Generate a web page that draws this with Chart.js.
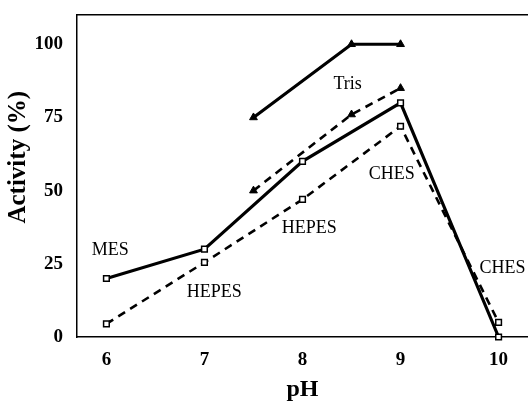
<!DOCTYPE html>
<html>
<head>
<meta charset="utf-8">
<script src="https://cdn.jsdelivr.net/npm/chart.js@4.4.1/dist/chart.umd.min.js"></script>
<style>
  html,body{margin:0;padding:0;background:#fff;}
  #wrap{width:528px;height:401px;position:relative;}
</style>
</head>
<body>
<div id="wrap"><canvas id="c"></canvas></div>
<script>
// ---- data ----
const phValues = [6, 7, 8, 9, 10];
const solidSquares = [20, 30, 60, 80, 0];
const dashedSquares = [4.5, 25.5, 47, 72, 5];
const trisPh = [7.5, 8.5, 9];
const trisSolid = [75, 100, 100];
const trisDashed = [50, 76, 85];
const xTicks = [6, 7, 8, 9, 10];
const yTicks = [0, 25, 50, 75, 100];
const labelTexts = ['MES', 'HEPES', 'HEPES', 'CHES', 'Tris', 'CHES'];
const labelX = [6.04, 7.1, 8.07, 8.91, 8.46, 10.04];
const labelY = [29.7, 15.4, 37.2, 55.6, 86.3, 23.5];

const pts = (xs, ys) => xs.map((x, i) => ({x: x, y: ys[i]}));
const serif = "'Liberation Serif', 'Times New Roman', serif";
const noPad = s => { s.paddingTop = 0; s.paddingBottom = 0; s.paddingLeft = 0; s.paddingRight = 0; };

const textPlugin = {
  id: 'textLabels',
  afterDatasetsDraw(chart) {
    const {ctx, scales} = chart;
    ctx.save();
    ctx.font = "18px " + serif;
    ctx.fillStyle = '#000';
    ctx.textAlign = 'center';
    ctx.textBaseline = 'middle';
    labelTexts.forEach((t, i) => {
      ctx.fillText(t, scales.x.getPixelForValue(labelX[i]), scales.y.getPixelForValue(labelY[i]));
    });
    ctx.restore();
  }
};

new Chart(document.getElementById('c'), {
  type: 'scatter',
  data: {
    datasets: [
      { data: pts(phValues, solidSquares), showLine: true, borderColor: '#000', borderWidth: 3.2,
        pointStyle: 'rect', pointRadius: 4, pointBackgroundColor: '#fff', pointBorderColor: '#000', pointBorderWidth: 1.5, clip: false },
      { data: pts(phValues, dashedSquares), showLine: true, borderColor: '#000', borderWidth: 2.6, borderDash: [8, 6],
        pointStyle: 'rect', pointRadius: 4, pointBackgroundColor: '#fff', pointBorderColor: '#000', pointBorderWidth: 1.5, clip: false },
      { data: pts(trisPh, trisSolid), showLine: true, borderColor: '#000', borderWidth: 3.2,
        pointStyle: 'triangle', pointRadius: 4.5, pointBackgroundColor: '#000', pointBorderColor: '#000', pointBorderWidth: 1, clip: false },
      { data: pts(trisPh, trisDashed), showLine: true, borderColor: '#000', borderWidth: 2.6, borderDash: [8, 6],
        pointStyle: 'triangle', pointRadius: 4.5, pointBackgroundColor: '#000', pointBorderColor: '#000', pointBorderWidth: 1, clip: false }
    ]
  },
  options: {
    responsive: true,
    maintainAspectRatio: false,
    animation: false,
    layout: { autoPadding: false, padding: { top: 15, right: 0, left: 0, bottom: 0 } },
    plugins: { legend: { display: false }, tooltip: { enabled: false } },
    scales: {
      x: {
        type: 'linear', position: 'bottom', min: 5.7, max: 10.3,
        afterBuildTicks: s => { s.ticks = xTicks.map(v => ({value: v})); },
        afterFit: s => { s.height = 64; noPad(s); },
        grid: { display: false, drawTicks: false },
        border: { display: true, color: '#000', width: 1.5 },
        ticks: { color: '#000', padding: 12, font: { family: serif, size: 19, weight: 'bold' } },
        title: { display: true, text: 'pH', color: '#000', padding: { top: 0, bottom: -3 },
                 font: { family: serif, size: 24, weight: 'bold' } }
      },
      x2: {
        type: 'linear', position: 'top', min: 5.7, max: 10.3,
        afterFit: s => { s.height = 0; noPad(s); },
        grid: { display: false, drawTicks: false },
        border: { display: true, color: '#000', width: 1.5 },
        ticks: { display: false }
      },
      y: {
        type: 'linear', min: 0, max: 110,
        afterBuildTicks: s => { s.ticks = yTicks.map(v => ({value: v})); },
        afterFit: s => { s.width = 77; noPad(s); },
        grid: { display: false, drawTicks: false },
        border: { display: true, color: '#000', width: 1.5 },
        ticks: { color: '#000', padding: 14, font: { family: serif, size: 19, weight: 'bold' } },
        title: { display: true, text: '      Activity (%)', color: '#000', padding: { top: 4, bottom: 4 },
                 font: { family: serif, size: 25, weight: 'bold' } }
      }
    }
  },
  plugins: [textPlugin]
});
</script>
</body>
</html>
